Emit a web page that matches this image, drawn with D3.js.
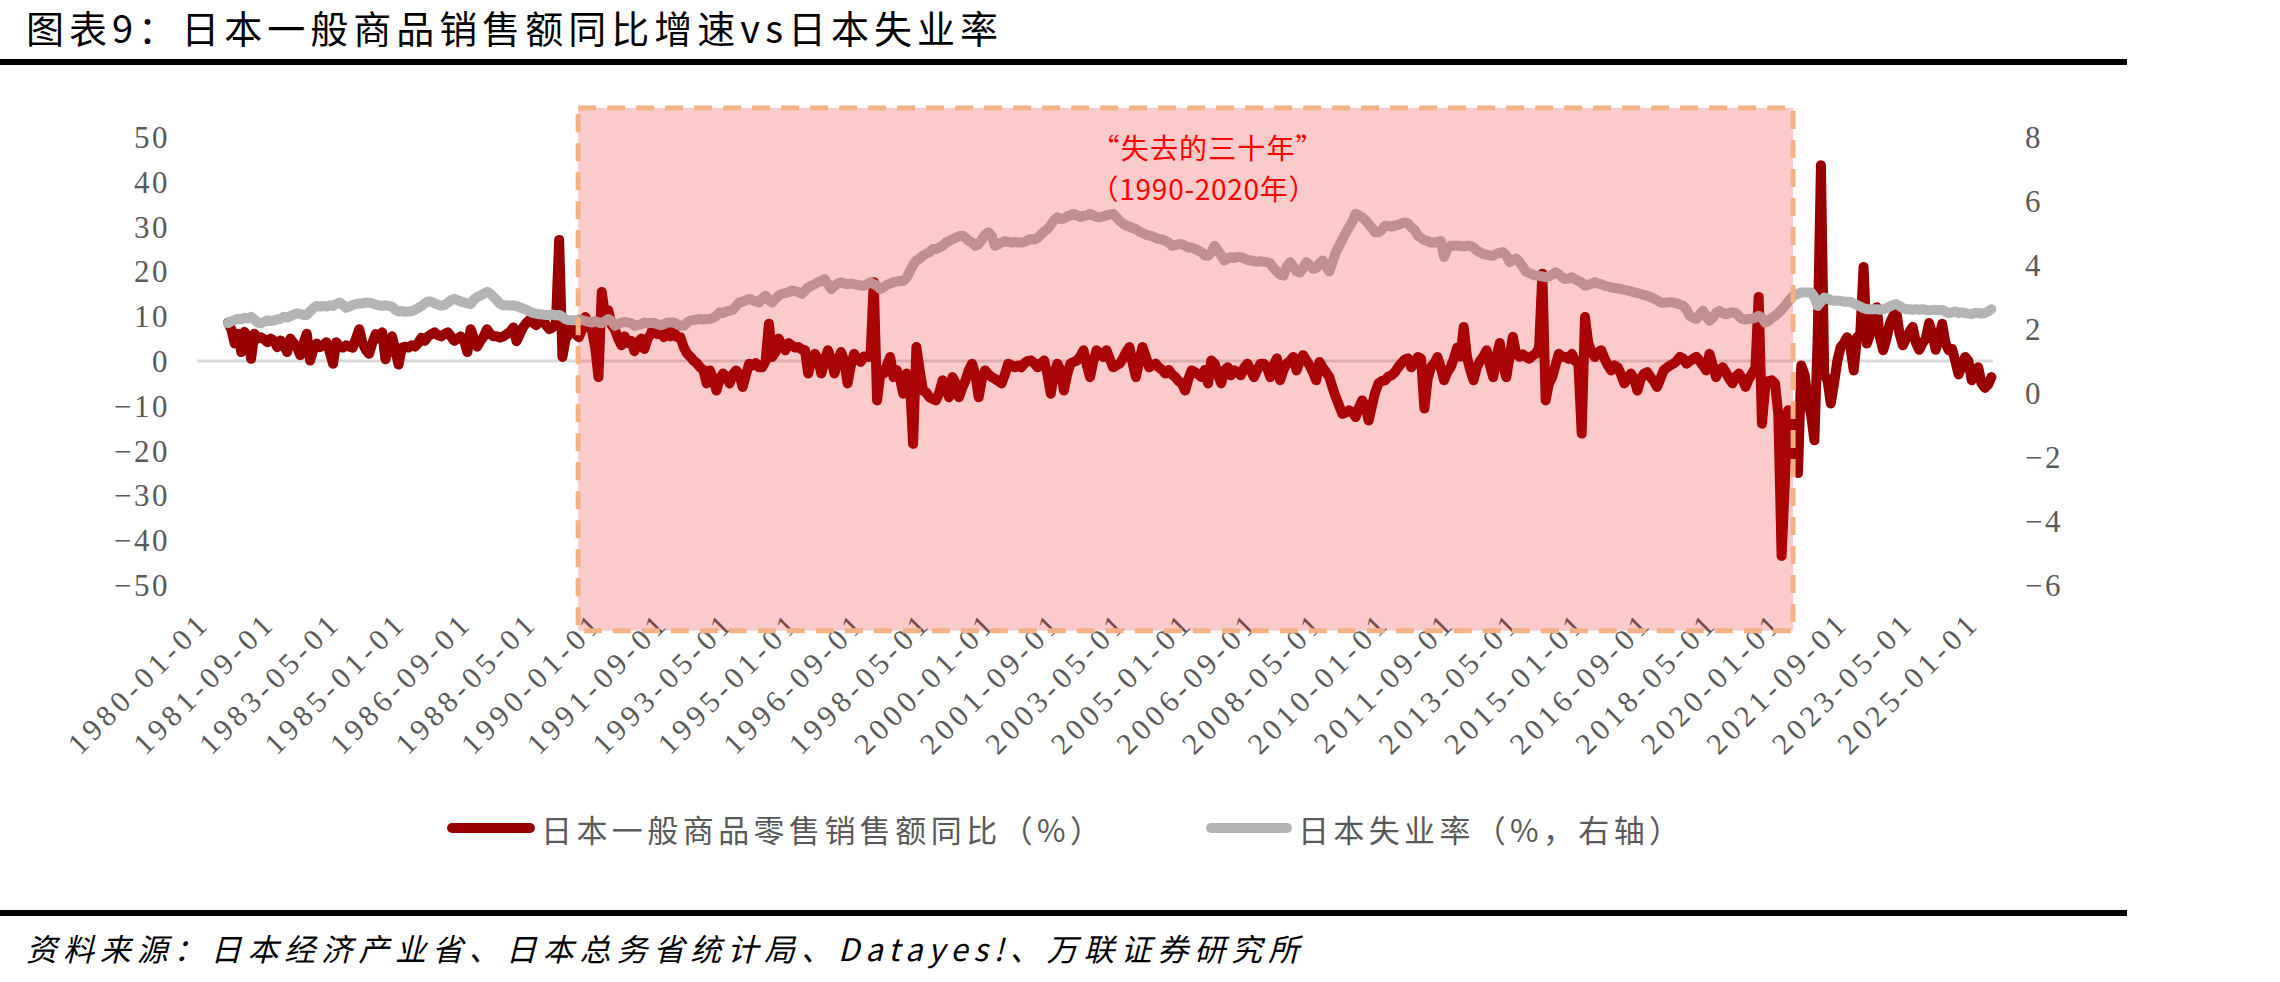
<!DOCTYPE html>
<html><head><meta charset="utf-8">
<script src="https://cdn.jsdelivr.net/npm/d3@7"></script>
<style>body{margin:0;background:#fff;}svg{display:block;}</style>
</head><body>
<svg id="chart" width="2280" height="982"></svg>
<script>
// ---------------- DATA ----------------
const firstYear = 1980, nMonths = 548; // 1980-01 ... 2025-08
const categories = d3.range(nMonths).map(i =>
  `${firstYear + Math.floor(i / 12)}-${String(i % 12 + 1).padStart(2, "0")}-01`);

const tickLabels = ["1980-01-01","1981-09-01","1983-05-01","1985-01-01","1986-09-01","1988-05-01",
  "1990-01-01","1991-09-01","1993-05-01","1995-01-01","1996-09-01","1998-05-01","2000-01-01",
  "2001-09-01","2003-05-01","2005-01-01","2006-09-01","2008-05-01","2010-01-01","2011-09-01",
  "2013-05-01","2015-01-01","2016-09-01","2018-05-01","2020-01-01","2021-09-01","2023-05-01","2025-01-01"];

const leftTicks = [-50,-40,-30,-20,-10,0,10,20,30,40,50];
const rightTicks = [-6,-4,-2,0,2,4,6,8];

// 日本一般商品零售销售额同比（%）, monthly
const salesYoY = [
 null,null,null,null,null,null,null,null,null,8.6,7.0,3.9,
 6.1,2.0,6.5,5.5,0.5,6.1,5.0,5.3,4.8,4.2,5.0,4.5,
 3.1,4.6,3.5,2.0,5.0,4.0,3.1,1.3,4.0,6.1,0.1,2.5,
 3.9,3.1,3.5,4.2,2.0,-0.6,4.2,3.2,3.0,3.5,3.2,3.0,
 5.0,7.1,4.0,2.5,1.6,4.0,6.0,5.0,6.4,0.4,3.0,5.5,
 2.5,-0.8,3.0,3.2,3.0,3.5,3.2,4.0,5.2,4.5,5.5,6.0,
 6.4,5.8,5.5,6.0,6.4,5.5,4.5,5.0,5.5,4.5,2.0,7.1,
 5.0,3.2,4.5,5.5,7.1,6.0,5.5,5.5,5.2,5.5,6.0,6.5,
 7.5,4.4,6.0,7.5,8.5,9.2,8.5,8.0,8.8,9.5,8.0,7.1,
 7.5,8.4,27.0,0.9,5.0,6.0,8.4,6.0,5.3,7.0,9.8,8.0,
 6.8,3.0,-3.6,15.4,10.0,11.3,8.0,7.0,5.0,3.5,5.5,4.0,
 4.5,2.2,4.0,5.0,2.7,5.0,6.0,8.4,6.0,7.0,5.3,7.5,
 5.5,6.5,5.3,5.3,3.1,1.7,1.0,0.1,-0.5,-1.4,-2.0,-5.0,
 -2.1,-4.0,-6.6,-4.0,-2.8,-3.5,-5.0,-3.0,-2.1,-3.0,-5.8,-3.0,
 -0.6,-1.0,-0.5,-1.4,-1.4,0.0,8.3,0.9,2.0,5.0,3.5,2.4,
 4.0,3.5,3.0,3.1,2.6,2.4,-2.8,0.0,1.6,0.5,-2.8,0.0,
 2.4,0.5,-2.8,0.0,2.0,0.0,-5.0,-1.0,1.6,0.5,-0.2,1.0,
 0.9,1.0,17.6,-8.8,-3.0,-2.8,-1.0,0.9,-3.6,-2.0,-4.0,-7.3,
 -2.8,-4.0,-18.5,3.1,-2.0,-6.6,-7.0,-8.1,-8.5,-8.8,-7.0,-4.3,
 -6.0,-8.1,-3.6,-5.0,-8.1,-6.0,-4.3,-2.0,-0.6,-3.0,-8.1,-4.0,
 -2.1,-3.0,-3.6,-4.0,-4.5,-5.0,-3.0,-0.6,-1.0,-1.4,-1.0,-1.4,
 -0.5,0.0,0.1,-0.5,-1.4,-0.5,0.1,-3.0,-7.3,-3.0,-0.6,-2.0,
 -6.6,-3.0,-0.6,-0.2,0.1,1.0,2.4,-1.0,-3.6,0.0,2.4,1.5,
 0.9,2.4,0.5,-1.4,-1.0,-0.6,0.5,2.0,3.1,-0.5,-3.6,0.0,
 3.1,1.0,-1.4,-1.0,-0.6,-1.5,-2.0,-2.8,-2.0,-3.0,-3.6,-4.5,
 -5.0,-6.6,-4.0,-2.1,-2.5,-3.0,-3.6,-2.0,-5.0,0.1,-0.6,-3.0,
 -5.0,-2.1,-1.4,-3.2,-2.1,-2.5,-3.2,-1.5,-0.6,-2.0,-3.6,-2.0,
 -0.6,-0.6,-1.5,-3.6,-1.0,0.6,-4.3,-2.0,-0.6,0.0,0.9,-2.1,
 0.0,1.3,0.1,-1.0,-2.5,-4.3,-0.2,-1.5,-2.5,-3.6,-6.0,-8.1,
 -10.0,-11.8,-11.5,-11.0,-11.4,-12.5,-10.5,-8.8,-10.0,-13.3,-10.0,-7.0,
 -5.0,-4.5,-4.3,-3.5,-3.2,-2.5,-1.4,-0.5,0.3,0.6,-1.4,-0.5,
 0.9,0.5,-10.6,-4.0,-1.4,-0.5,0.9,-1.5,-4.3,-2.5,-1.4,0.5,
 3.0,1.0,7.6,0.9,-2.0,-4.3,-1.4,0.0,1.0,2.4,-1.0,-3.6,
 1.0,4.0,-1.0,-3.6,1.0,5.4,1.6,1.0,1.5,0.9,0.5,1.2,
 1.6,3.0,19.5,-8.8,-5.0,-3.6,-1.0,1.6,1.0,0.9,0.5,1.6,
 0.0,-0.6,-16.2,9.8,4.0,2.0,0.9,2.0,2.4,0.5,-1.0,-2.1,
 -1.0,-1.4,-3.0,-5.0,-4.0,-2.8,-4.0,-6.6,-4.0,-2.8,-2.5,-3.6,
 -4.5,-5.8,-4.0,-2.1,-1.5,-1.0,-0.6,0.0,0.9,0.5,-0.6,0.0,
 0.5,0.9,0.0,-1.0,-2.1,1.6,-1.0,-3.6,-2.0,-1.4,-2.5,-4.0,
 -5.0,-3.5,-2.8,-4.0,-5.8,-4.0,-2.8,-1.5,14.3,-14.0,-5.8,-4.5,
 -4.3,-5.0,-12.0,-43.5,-27.0,-11.0,-15.0,-21.0,-25.0,-1.0,-3.0,-8.8,
 -12.0,-17.7,5.0,43.7,-3.0,-4.3,-9.5,-5.0,0.0,3.1,4.0,5.3,
 3.0,-2.1,5.3,6.0,21.0,3.9,6.0,8.3,12.0,5.3,2.4,5.0,
 8.3,10.0,11.0,6.0,3.5,5.0,6.5,7.6,4.0,2.5,4.0,5.0,
 8.5,6.0,2.5,5.0,8.3,4.0,2.4,2.7,0.0,-3.0,-1.0,0.9,
 0.0,-4.3,-3.0,-1.4,-5.0,-6.0,-5.3,-3.6
];

// 日本失业率（%，右轴）, monthly
const unemployment = [
 null,null,null,null,null,null,null,null,null,2.18,2.25,2.28,
 2.32,2.30,2.35,2.33,2.38,2.30,2.20,2.18,2.22,2.27,2.25,2.27,
 2.30,2.32,2.38,2.36,2.40,2.45,2.49,2.47,2.44,2.44,2.55,2.65,
 2.72,2.70,2.72,2.70,2.74,2.72,2.78,2.83,2.75,2.66,2.70,2.75,
 2.78,2.80,2.80,2.83,2.82,2.80,2.76,2.74,2.72,2.74,2.72,2.70,
 2.60,2.55,2.56,2.54,2.55,2.56,2.60,2.66,2.72,2.80,2.86,2.86,
 2.80,2.76,2.73,2.75,2.82,2.90,2.94,2.90,2.86,2.83,2.80,2.78,
 2.92,3.00,3.05,3.10,3.16,3.10,3.00,2.90,2.78,2.74,2.74,2.73,
 2.74,2.72,2.68,2.64,2.60,2.55,2.50,2.48,2.46,2.45,2.44,2.44,
 2.45,2.43,2.44,2.38,2.30,2.28,2.27,2.27,2.30,2.28,2.25,2.22,
 2.20,2.25,2.20,2.18,2.25,2.31,2.25,2.10,2.15,2.20,2.22,2.20,
 2.18,2.10,2.12,2.15,2.20,2.18,2.20,2.18,2.15,2.12,2.15,2.20,
 2.20,2.20,2.15,2.10,2.10,2.20,2.26,2.28,2.30,2.31,2.30,2.31,
 2.31,2.35,2.42,2.52,2.50,2.55,2.57,2.60,2.72,2.83,2.85,2.90,
 2.94,2.90,2.86,2.83,2.95,3.04,2.90,2.83,2.95,3.05,3.10,3.12,
 3.15,3.20,3.18,3.15,3.10,3.20,3.30,3.35,3.40,3.46,3.50,3.56,
 3.40,3.25,3.35,3.42,3.46,3.42,3.40,3.42,3.40,3.38,3.36,3.35,
 3.40,3.46,3.40,3.35,3.25,3.30,3.38,3.42,3.46,3.48,3.50,3.50,
 3.60,3.80,4.00,4.14,4.20,4.29,4.35,4.40,4.50,4.50,4.55,4.60,
 4.70,4.75,4.81,4.85,4.90,4.92,4.85,4.75,4.70,4.60,4.65,4.80,
 4.95,5.02,4.90,4.60,4.65,4.70,4.75,4.72,4.70,4.72,4.70,4.70,
 4.72,4.78,4.81,4.80,4.85,4.95,5.05,5.12,5.25,5.40,5.49,5.44,
 5.45,5.52,5.55,5.60,5.55,5.50,5.54,5.55,5.60,5.55,5.50,5.49,
 5.52,5.55,5.58,5.60,5.50,5.38,5.30,5.23,5.20,5.15,5.12,5.05,
 5.00,4.95,4.92,4.90,4.85,4.81,4.80,4.75,4.70,4.60,4.62,4.65,
 4.65,4.60,4.55,4.55,4.50,4.45,4.40,4.30,4.29,4.40,4.60,4.45,
 4.30,4.14,4.20,4.25,4.22,4.25,4.25,4.20,4.16,4.14,4.12,4.10,
 4.12,4.10,4.09,4.05,3.90,3.80,3.70,3.67,3.95,4.09,3.95,3.80,
 3.77,3.90,4.09,4.00,3.88,3.90,4.05,4.14,3.95,3.80,4.10,4.40,
 4.60,4.81,5.00,5.18,5.35,5.60,5.55,5.49,5.40,5.28,5.15,5.02,
 5.02,5.10,5.23,5.22,5.20,5.23,5.25,5.30,5.33,5.30,5.18,5.10,
 4.92,4.85,4.78,4.75,4.70,4.70,4.72,4.75,4.25,4.50,4.60,4.60,
 4.60,4.60,4.58,4.60,4.60,4.55,4.45,4.40,4.34,4.32,4.30,4.29,
 4.35,4.38,4.40,4.30,4.09,4.15,4.20,4.10,3.95,3.80,3.75,3.70,
 3.67,3.66,3.64,3.62,3.65,3.70,3.77,3.72,3.62,3.56,3.58,3.62,
 3.55,3.50,3.45,3.35,3.38,3.42,3.46,3.42,3.40,3.35,3.33,3.30,
 3.28,3.27,3.25,3.22,3.20,3.18,3.15,3.12,3.10,3.06,3.04,3.00,
 2.95,2.90,2.83,2.82,2.83,2.84,2.83,2.80,2.76,2.72,2.60,2.41,
 2.35,2.31,2.45,2.57,2.40,2.26,2.35,2.50,2.57,2.50,2.46,2.50,
 2.52,2.50,2.40,2.31,2.30,2.31,2.32,2.35,2.41,2.35,2.20,2.25,
 2.35,2.41,2.50,2.60,2.72,2.85,2.98,3.05,3.10,3.14,3.14,3.14,
 3.14,3.00,2.72,2.85,2.98,2.95,2.90,2.88,2.88,2.88,2.85,2.85,
 2.85,2.80,2.75,2.70,2.65,2.62,2.62,2.62,2.62,2.60,2.62,2.65,
 2.70,2.75,2.78,2.72,2.65,2.62,2.62,2.60,2.62,2.60,2.62,2.60,
 2.58,2.60,2.60,2.58,2.60,2.55,2.50,2.52,2.55,2.50,2.52,2.50,
 2.48,2.47,2.50,2.50,2.48,2.50,2.55,2.62
];

// shaded "lost thirty years" band (month index, left-axis units)
const shadeStart = 115.8, shadeEnd = 486.5, shadeTop = 56.5, shadeBottom = -60.2;

// ---------------- CHART ----------------
const svg = d3.select("#chart");
const plot = {left: 197, right: 1993, top: 137, bottom: 585};

const x = d3.scaleLinear().domain([-0.5, nMonths - 0.5]).range([plot.left, plot.right]);
const yL = d3.scaleLinear().domain([-50, 50]).range([plot.bottom, plot.top]);
const yR = d3.scaleLinear().domain([-6, 8]).range([plot.bottom, plot.top]);

const labelFont = "'Liberation Serif','Times New Roman',serif";
const cjk = "'Noto Sans CJK SC','Noto Sans CJK JP',sans-serif";

// title
svg.append("text").attr("x", 26).attr("y", 43)
  .attr("font-family", cjk).attr("font-size", 38).attr("fill", "#000")
  .attr("textLength", 972).attr("lengthAdjust", "spacing")
  .text("图表9：日本一般商品销售额同比增速vs日本失业率");
svg.append("rect").attr("x", 0).attr("y", 59).attr("width", 2127).attr("height", 6).attr("fill", "#000");

// zero line
svg.append("line").attr("x1", plot.left).attr("x2", plot.right)
  .attr("y1", yL(0)).attr("y2", yL(0)).attr("stroke", "#d9d9d9").attr("stroke-width", 3);

// left axis
const gL = svg.append("g").attr("transform", `translate(${plot.left},0)`)
  .call(d3.axisLeft(yL).tickValues(leftTicks).tickSize(0).tickPadding(27));
gL.select(".domain").remove();
gL.selectAll("text").attr("font-family", labelFont).attr("font-size", 31)
  .attr("fill", "#595959").attr("letter-spacing", 2.5).attr("dy", null)
  .attr("dominant-baseline", "central");

// right axis
const gR = svg.append("g").attr("transform", `translate(${plot.right},0)`)
  .call(d3.axisRight(yR).tickValues(rightTicks).tickSize(0).tickPadding(32));
gR.select(".domain").remove();
gR.selectAll("text").attr("font-family", labelFont).attr("font-size", 31)
  .attr("fill", "#595959").attr("letter-spacing", 2.5).attr("dy", null)
  .attr("dominant-baseline", "central");

// x axis (rotated date labels)
const tickIdx = tickLabels.map(t => categories.indexOf(t));
const gX = svg.append("g").attr("transform", `translate(0,${plot.bottom})`)
  .call(d3.axisBottom(x).tickValues(tickIdx).tickSize(0)
    .tickFormat(i => categories[i]));
gX.select(".domain").remove();
gX.selectAll("text").attr("font-family", labelFont).attr("font-size", 30)
  .attr("fill", "#595959").attr("letter-spacing", 4.6)
  .attr("y", 0).attr("dy", null).attr("text-anchor", "end")
  .attr("dominant-baseline", "central")
  .attr("transform", "translate(5,32) rotate(-45)");

// lines
const lineL = d3.line().defined(d => d != null).x((d, i) => x(i)).y(d => yL(d));
const lineR = d3.line().defined(d => d != null).x((d, i) => x(i)).y(d => yR(d));

svg.append("path").datum(salesYoY).attr("d", lineL)
  .attr("fill", "none").attr("stroke", "#990000").attr("stroke-width", 10)
  .attr("stroke-linejoin", "round").attr("stroke-linecap", "round");
svg.append("path").datum(unemployment).attr("d", lineR)
  .attr("fill", "none").attr("stroke", "#b4b4b4").attr("stroke-width", 10)
  .attr("stroke-linejoin", "round").attr("stroke-linecap", "round");

// shaded annotation band (drawn over lines, semi-transparent)
svg.append("rect")
  .attr("x", x(shadeStart)).attr("y", yL(shadeTop))
  .attr("width", x(shadeEnd) - x(shadeStart)).attr("height", yL(shadeBottom) - yL(shadeTop))
  .attr("fill", "rgb(238,20,25)").attr("fill-opacity", 0.22)
  .attr("stroke", "#f4b183").attr("stroke-width", 5).attr("stroke-dasharray", "18,11");

const annoX = x(shadeStart) + (x(shadeEnd) - x(shadeStart)) / 2 + 22;
svg.append("text").attr("x", annoX).attr("y", 147).attr("text-anchor", "middle")
  .attr("dominant-baseline", "central").attr("font-family", cjk).attr("font-size", 28)
  .attr("fill", "#ff0000").attr("textLength", 232).attr("lengthAdjust", "spacing")
  .text("“失去的三十年”");
svg.append("text").attr("x", annoX - 4).attr("y", 188).attr("text-anchor", "middle")
  .attr("dominant-baseline", "central").attr("font-family", cjk).attr("font-size", 28)
  .attr("fill", "#ff0000").attr("textLength", 226).attr("lengthAdjust", "spacing")
  .text("（1990-2020年）");

// legend
const legend = [
  {name: "日本一般商品零售销售额同比（%）", color: "#990000", x0: 452, x1: 530, tx: 541, tl: 560},
  {name: "日本失业率（%，右轴）", color: "#b4b4b4", x0: 1211, x1: 1287, tx: 1298, tl: 382}
];
const lg = svg.append("g");
legend.forEach(d => {
  lg.append("line").attr("x1", d.x0).attr("x2", d.x1).attr("y1", 828).attr("y2", 828)
    .attr("stroke", d.color).attr("stroke-width", 10).attr("stroke-linecap", "round");
  lg.append("text").attr("x", d.tx).attr("y", 828).attr("dominant-baseline", "central")
    .attr("font-family", cjk).attr("font-size", 31).attr("fill", "#595959")
    .attr("textLength", d.tl).attr("lengthAdjust", "spacing").text(d.name);
});

// footer
svg.append("rect").attr("x", 0).attr("y", 910).attr("width", 2127).attr("height", 6).attr("fill", "#000");
svg.append("text").attr("x", 26).attr("y", 961)
  .attr("font-family", cjk).attr("font-size", 31).attr("font-style", "italic").attr("fill", "#000")
  .attr("textLength", 1273).attr("lengthAdjust", "spacing")
  .text("资料来源：日本经济产业省、日本总务省统计局、Datayes!、万联证券研究所");
</script>
</body></html>
